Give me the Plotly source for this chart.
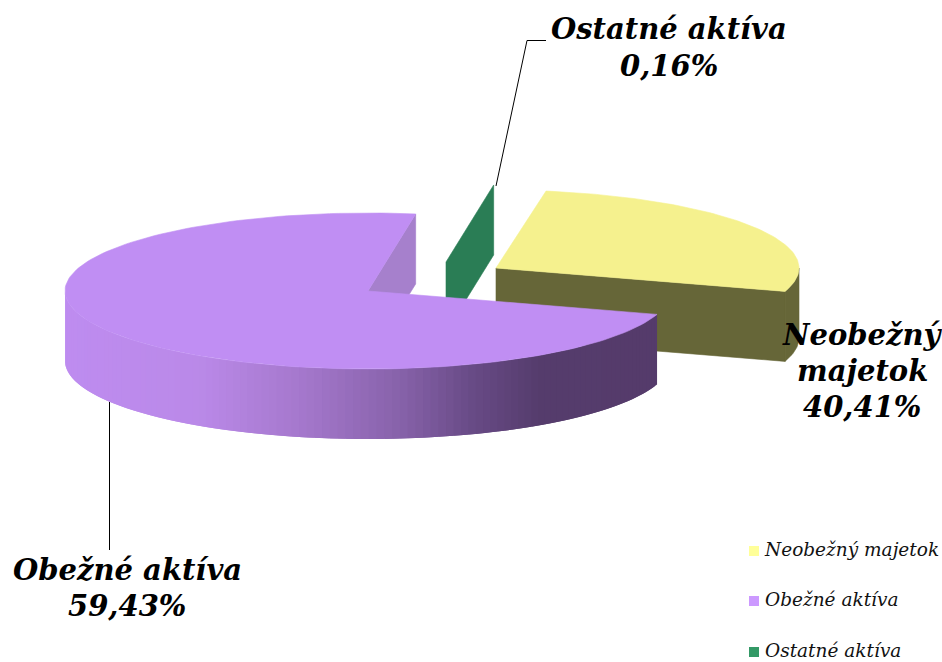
import math
import plotly.graph_objects as go

# ---- data ----
categories = ["Neobežný majetok", "Obežné aktíva", "Ostatné aktíva"]
shares = [40.41, 59.43, 0.16]
share_labels = ["40,41%", "59,43%", "0,16%"]

# ---- colours ----
legend_colors = ["#FFFF99", "#CC99FF", "#339966"]
top_colors = ["#F5F18E", "#C08EF3", "#2A7D55"]
yellow_side = "#666638"
purple_cut = "#A680CC"
purple_ramp = [(60, (190, 140, 240)), (200, (186, 137, 232)), (300, (165, 120, 205)),
               (400, (135, 98, 170)), (470, (105, 75, 135)), (540, (85, 60, 108)), (660, (85, 59, 107))]

# ---- view of the pie ----
RX, RY, DEPTH = 303, 78, 70
AXIS = 238.25       # screen direction of the purple slice's middle (clockwise from top)
WARP = 1.617        # perspective stretch of the near side
centers = {"Neobežný majetok": (496, 268), "Obežné aktíva": (368, 291), "Ostatné aktíva": (446, 262)}

def warp(phi):
    """true pie angle relative to AXIS -> on-screen ellipse angle (clockwise from top)"""
    turns = round(phi / 360)
    p = phi - turns * 360
    if abs(abs(p) - 180) < 1e-9:
        q = p
    else:
        q = 2 * math.degrees(math.atan(WARP * math.tan(math.radians(p / 2))))
    return AXIS + q + turns * 360

def rim(c, a, dz=0):
    return c[0] + RX * math.sin(math.radians(a)), c[1] - RY * math.cos(math.radians(a)) + dz

# slices run clockwise, starting with the middle of Obežné at AXIS
deg = {n: s * 3.6 for n, s in zip(categories, shares)}
p0 = -deg["Obežné aktíva"] / 2
p1 = p0 + deg["Obežné aktíva"]
p2 = p1 + deg["Ostatné aktíva"]
p3 = p2 + deg["Neobežný majetok"]
purple_rng = (warp(p0), warp(p1))
green_rng = (warp(p1), warp(p2))
yellow_rng = (warp(p2), warp(p3))

fig = go.Figure()

def poly(pts, color, lw=0.6):
    xs = [p[0] for p in pts] + [pts[0][0]]
    ys = [p[1] for p in pts] + [pts[0][1]]
    fig.add_trace(go.Scatter(x=xs, y=ys, mode="lines", fill="toself", fillcolor=color,
                             line=dict(color=color, width=lw), hoverinfo="skip", showlegend=False))

def arc(c, a0, a1, n=90, dz=0):
    return [rim(c, a0 + (a1 - a0) * i / n, dz) for i in range(n + 1)]

def ramp(x):
    for (x0, c0), (x1, c1) in zip(purple_ramp, purple_ramp[1:]):
        if x <= x1:
            t = max(0, (x - x0) / (x1 - x0))
            return "rgb(%d,%d,%d)" % tuple(round(u + (v - u) * t) for u, v in zip(c0, c1))
    return "rgb(%d,%d,%d)" % purple_ramp[-1][1]

# yellow slice
yc = centers["Neobežný majetok"]
y_end = yellow_rng[1] % 360
poly([yc, rim(yc, y_end), rim(yc, y_end, DEPTH), (yc[0], yc[1] + DEPTH)], yellow_side)
poly(arc(yc, 90, y_end, 20) + arc(yc, y_end, 90, 20, DEPTH), yellow_side)
poly([yc] + arc(yc, yellow_rng[0] % 360, y_end), top_colors[0])

# green slice (almost nothing but its cut face shows)
gc = centers["Ostatné aktíva"]
g0 = green_rng[0] % 360
poly([gc, rim(gc, g0), rim(gc, g0, DEPTH), (gc[0], gc[1] + DEPTH)], top_colors[2])

# purple slice
pc = centers["Obežné aktíva"]
a0, a1 = purple_rng
poly([pc, rim(pc, a1), rim(pc, a1, DEPTH), (pc[0], pc[1] + DEPTH)], purple_cut)
front_end = 270
N = 110
step = (front_end - a0) / N
for i in range(N):
    u0 = a0 + step * i
    u1 = min(front_end, u0 + 2 * step)     # overlap the next strip so no seams show
    x_mid = rim(pc, u0 + step / 2)[0]
    pts = arc(pc, u0, u1, 2) + arc(pc, u1, u0, 2, DEPTH)
    poly(pts, ramp(x_mid), lw=0)
poly([pc] + arc(pc, a0, a1, 160), top_colors[1])

# leader lines
fig.add_trace(go.Scatter(x=[496, 527, 546], y=[186, 40.5, 40.5], mode="lines",
                         line=dict(color="black", width=1), hoverinfo="skip", showlegend=False))
fig.add_trace(go.Scatter(x=[109.5, 109.5], y=[402, 550], mode="lines",
                         line=dict(color="black", width=1), hoverinfo="skip", showlegend=False))

# data labels
FONT = "DejaVu Serif"
LSIZE = 29
label_lines = [
    (["Neobežný", "majetok", share_labels[0]], 862, [335, 371, 407]),
    (["Obežné aktíva", share_labels[1]], 127, [570, 606]),
    (["Ostatné aktíva", share_labels[2]], 669, [29, 66]),
]
for lines, cx, ys in label_lines:
    for t, yy in zip(lines, ys):
        fig.add_annotation(x=cx, y=yy, text=t, showarrow=False, xanchor="center", yanchor="middle",
                           font=dict(family=FONT, size=LSIZE, color="black", weight="bold", style="italic"))

# legend
legend_y = [551, 601, 652]
fig.add_trace(go.Scatter(x=[754, 754, 754], y=legend_y, mode="markers",
                         marker=dict(symbol="square", size=10, color=legend_colors, line=dict(width=0)),
                         hoverinfo="skip", showlegend=False))
fig.add_trace(go.Scatter(x=[765, 765, 765], y=legend_y, mode="text",
                         text=categories, textposition="middle right",
                         textfont=dict(family=FONT, size=18.5, color="#111111", style="italic"),
                         hoverinfo="skip", showlegend=False))

fig.update_layout(width=942, height=662, margin=dict(l=0, r=0, t=0, b=0),
                  paper_bgcolor="white", plot_bgcolor="white", showlegend=False,
                  xaxis=dict(range=[0, 942], visible=False, fixedrange=True),
                  yaxis=dict(range=[662, 0], visible=False, fixedrange=True))
fig.write_html("out.html", config={"displayModeBar": False},
               post_script="document.body.style.margin='0';")
